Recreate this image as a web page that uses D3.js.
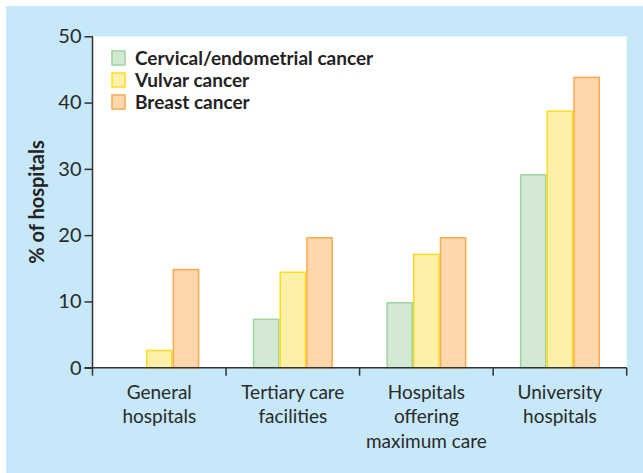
<!DOCTYPE html>
<html>
<head>
<meta charset="utf-8">
<script src="https://cdn.jsdelivr.net/npm/d3@7"></script>
<style>
  body { margin: 0; background: #fff; }
  svg { display: block; font-family: Lato, "Open Sans", sans-serif; }
</style>
</head>
<body>
<svg width="643" height="473"></svg>
<script>
// data
var categories = [["General", "hospitals"], ["Tertiary care", "facilities"],
                  ["Hospitals", "offering", "maximum care"], ["University", "hospitals"]];
var seriesNames = ["Cervical/endometrial cancer", "Vulvar cancer", "Breast cancer"];
var cervical = [0, 7.3, 9.8, 29.1];
var vulvar = [2.6, 14.4, 17.1, 38.7];
var breast = [14.8, 19.6, 19.6, 43.8];
var yTicks = [0, 10, 20, 30, 40, 50];

var fills = ["#d3e9d3", "#fff0a8", "#fdd6ac"];
var strokes = ["#9dd39d", "#ffdb1f", "#f8aa4e"];

var svg = d3.select("svg");

// blue panel
svg.append("rect").attr("x", 6).attr("y", 6).attr("width", 637).attr("height", 467)
  .attr("fill", "#c7e8f8");

var plotL = 92.5, plotR = 626.7, plotT = 36.3, plotB = 367.7;

svg.append("rect").attr("x", plotL).attr("y", plotT)
  .attr("width", plotR - plotL).attr("height", plotB - plotT).attr("fill", "#fff");

var y = d3.scaleLinear().domain([0, 50]).range([plotB, plotT]);
var x0 = d3.scaleBand().domain(d3.range(categories.length)).range([plotL, plotR])
  .paddingInner(0.4).paddingOuter(0.2);
var x1 = d3.scaleBand().domain(d3.range(seriesNames.length)).range([0, x0.bandwidth()]);

var series = [cervical, vulvar, breast];

// bars
var groups = svg.selectAll("g.grp").data(categories).enter().append("g")
  .attr("class", "grp")
  .attr("transform", function(d, i) { return "translate(" + x0(i) + ",0)"; });

groups.selectAll("rect").data(function(d, i) {
    return series.map(function(s, j) { return {s: j, v: s[i]}; }).filter(function(d) { return d.v > 0; });
  })
  .enter().append("rect")
    .attr("x", function(d) { return x1(d.s) + 0.75; })
    .attr("y", function(d) { return y(d.v); })
    .attr("width", x1.bandwidth() - 1.5)
    .attr("height", function(d) { return plotB - y(d.v); })
    .attr("fill", function(d) { return fills[d.s]; })
    .attr("stroke", function(d) { return strokes[d.s]; })
    .attr("stroke-width", 1.5);

// y axis
var yAxis = svg.append("g").attr("transform", "translate(" + plotL + ",0)")
  .call(d3.axisLeft(y).tickValues(yTicks).tickSize(8).tickPadding(3));
yAxis.select(".domain").attr("stroke", "#333").attr("stroke-width", 1.5)
  .attr("d", "M0," + plotT + "V" + plotB);
yAxis.selectAll(".tick line").attr("stroke", "#333").attr("stroke-width", 1.5);
yAxis.selectAll(".tick text").attr("font-size", 20).attr("fill", "#2a2a2a")
  .attr("font-family", "Lato, sans-serif");

// x axis with ticks at category borders
var xAxis = svg.append("g").attr("transform", "translate(0," + plotB + ")");
xAxis.append("line").attr("x1", plotL - 8).attr("x2", plotR).attr("stroke", "#333").attr("stroke-width", 1.5);
var borders = d3.range(categories.length + 1).map(function(i) {
  return i < categories.length ? x0(i) - x0.step() * 0.2 : plotR;
});
xAxis.selectAll("line.tk").data(borders).enter().append("line").attr("class", "tk")
  .attr("x1", function(d) { return d; }).attr("x2", function(d) { return d; })
  .attr("y1", 0).attr("y2", 8).attr("stroke", "#333").attr("stroke-width", 1.5);

xAxis.selectAll("text.cat").data(categories).enter().append("text").attr("class", "cat")
  .attr("text-anchor", "middle").attr("font-size", 19).attr("fill", "#2a2a2a")
  .attr("x", function(d, i) { return x0(i) + x0.bandwidth() / 2; })
  .each(function(d) {
    var t = d3.select(this);
    d.forEach(function(line, k) {
      t.append("tspan").attr("x", t.attr("x")).attr("y", 31 + k * 24.5).text(line);
    });
  });

// y title
svg.append("text").attr("transform", "translate(44,202) rotate(-90)")
  .attr("text-anchor", "middle").attr("font-size", 20).attr("font-weight", "bold")
  .attr("fill", "#222").text("% of hospitals");

// legend
var legend = svg.append("g").attr("transform", "translate(112,51)");
var li = legend.selectAll("g").data(seriesNames).enter().append("g")
  .attr("transform", function(d, i) { return "translate(0," + i * 22 + ")"; });
li.append("rect").attr("width", 13).attr("height", 14)
  .attr("fill", function(d, i) { return fills[i]; })
  .attr("stroke", function(d, i) { return strokes[i]; }).attr("stroke-width", 1.5);
li.append("text").attr("x", 23).attr("y", 14).attr("font-size", 19).attr("font-weight", "bold")
  .attr("fill", "#222").text(function(d) { return d; });
</script>
</body>
</html>
